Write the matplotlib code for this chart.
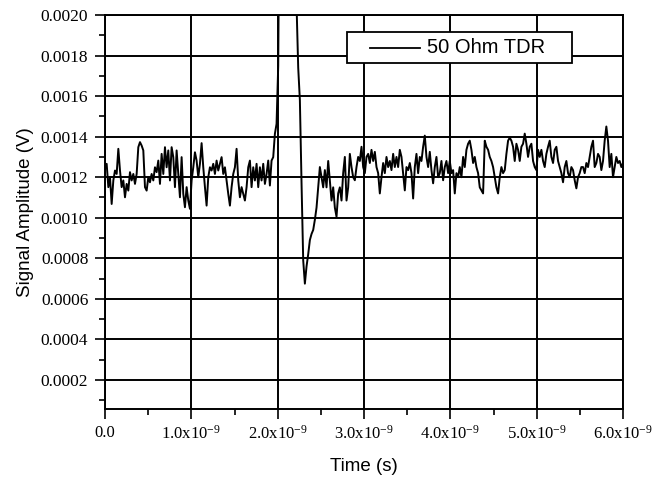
import numpy as np
import matplotlib
matplotlib.use("Agg")
import matplotlib.pyplot as plt
from matplotlib.ticker import FixedLocator, FuncFormatter
from matplotlib.patches import Rectangle
from matplotlib.lines import Line2D

# ---- data (amplitude in units of 1e-4 V), sampled every dt ----
dt_ns = 6.0 / 311

pre_pulse = [12.5, 12.66, 11.51, 12.0, 10.68, 11.84, 12.33, 12.16, 13.40, 12.33,
             11.51, 11.84, 11.01, 11.67, 11.34, 12.25, 11.84, 12.16, 11.67, 12.16,
             13.48, 13.73, 13.56, 13.32, 11.51, 11.34, 12.0, 11.75, 12.16, 11.84,
             12.49, 12.25, 12.82, 11.67, 13.15, 12.16, 13.48, 12.49, 13.32, 11.84,
             13.48, 12.99, 11.51, 13.32, 12.16, 11.01, 12.99, 11.18, 10.52, 11.51,
             10.85, 10.44, 11.84, 12.49, 13.23, 12.82, 12.0, 12.66, 13.68, 12.49,
             11.51, 10.6, 12.0, 12.49, 12.33, 12.66, 12.16, 12.82, 12.33, 12.66,
             12.99, 12.16, 12.49, 11.84, 11.18, 10.6, 11.51, 12.16, 12.49, 13.40,
             11.84, 11.01, 11.51, 11.18, 10.85, 11.51, 12.49, 12.82, 11.51, 12.49,
             11.84, 12.66, 11.51, 12.49, 11.84, 12.66, 11.67, 12.16, 12.82, 11.59,
             12.82, 12.99, 14.14, 14.63]

pulse = [17.5, 30, 45, 60, 70, 75, 75, 70, 60, 45, 30, 20.5,
         17.4, 15.8, 11.7, 7.9, 6.75, 7.6, 8.2, 8.9, 9.2, 9.4, 9.9, 10.5, 11.5]

post_pulse_a = [12.5, 12.0, 11.5, 12.35, 11.5, 12.8, 11.85, 10.85, 11.5, 10.5,
                10.05, 11.2, 11.5, 10.85, 12.2, 13.0, 10.85, 11.5, 13.15, 12.5,
                12.0, 11.85, 12.5, 13.0, 12.8, 13.5, 12.5, 12.2, 13.0, 13.15,
                12.7, 13.35, 12.8, 13.25, 12.5, 12.2, 11.2, 12.0, 12.7, 12.2,
                13.0, 12.5, 12.8, 12.35, 13.15, 12.5, 13.0, 12.5, 13.35, 13.0,
                12.2, 11.35, 12.5, 12.35, 12.7, 12.2, 10.95, 12.5, 13.15, 12.2,
                13.0, 12.8, 13.5, 14.05, 13.0, 12.5, 13.25, 12.35, 11.7, 12.5,
                13.0, 12.0, 12.2, 12.8, 11.85, 12.5, 12.8, 12.2, 12.8, 12.2,
                12.35, 11.2, 12.2, 12.0, 12.5, 12.0, 13.0, 12.5, 13.35, 13.65]

post_pulse_b = [13.8, 13.35, 12.7, 13.0, 12.5, 12.2, 11.5, 11.35, 11.2, 13.8,
                13.5, 13.35, 13.0, 12.8, 12.5, 12.0, 11.5, 11.2, 12.0, 12.5,
                12.2, 12.35, 13.15, 13.8, 13.95, 13.8, 13.5, 12.8, 13.65, 13.35,
                12.8, 13.5, 13.65, 14.15, 13.65, 13.0, 13.5, 13.65, 12.8, 12.5,
                12.35, 13.35, 13.0, 13.35, 12.8, 12.5, 13.15, 13.5, 13.8, 13.0,
                12.7, 13.35, 13.5, 12.8, 12.5, 12.2, 11.75, 12.5, 12.8, 12.2,
                12.0, 12.5, 12.35, 11.85, 11.45, 12.0, 12.2, 12.5, 12.5, 12.2,
                12.7, 12.5, 13.0, 13.5, 13.8, 12.5, 12.7, 13.15, 13.0, 12.35,
                12.8, 13.8, 14.5, 13.8, 12.5, 13.15, 12.0, 12.5, 13.0, 12.7,
                12.8, 12.5, 12.7]

x_ticks_ns = [0, 1, 2, 3, 4, 5, 6]
x_minor_ns = [0.5, 1.5, 2.5, 3.5, 4.5, 5.5]
y_ticks = [0.0002, 0.0004, 0.0006, 0.0008, 0.0010, 0.0012, 0.0014, 0.0016, 0.0018, 0.0020]
y_minor = [0.0001, 0.0003, 0.0005, 0.0007, 0.0009, 0.0011, 0.0013, 0.0015, 0.0017, 0.0019]

legend_label = "50 Ohm TDR"
x_label = "Time (s)"
y_label = "Signal Amplitude (V)"

amp = np.array(pre_pulse + pulse + post_pulse_a + post_pulse_b) * 1e-4
t = np.arange(len(amp)) * dt_ns * 1e-9

plt.rcParams["mathtext.fontset"] = "custom"
plt.rcParams["mathtext.rm"] = "Liberation Serif"

# ---- figure ----
W, H = 667, 479
L, R, T, B = 105.0, 623.0, 15.0, 409.3
fig = plt.figure(figsize=(W / 100, H / 100), dpi=100)
ax = fig.add_axes([L / W, 1 - B / H, (R - L) / W, (B - T) / H])

ax.plot(t, amp, color="black", lw=1.4, zorder=3)

ax.set_xlim(0, 6e-9)
ax.set_ylim(0.0000553, 0.0020)

ax.xaxis.set_major_locator(FixedLocator([v * 1e-9 for v in x_ticks_ns]))
ax.xaxis.set_minor_locator(FixedLocator([v * 1e-9 for v in x_minor_ns]))
ax.yaxis.set_major_locator(FixedLocator(y_ticks))
ax.yaxis.set_minor_locator(FixedLocator(y_minor))


def xfmt(v, pos):
    if abs(v) < 1e-15:
        return "0.0"
    return r"$\mathregular{%.1fx10^{-9}}$" % (v * 1e9)


ax.xaxis.set_major_formatter(FuncFormatter(xfmt))
ax.yaxis.set_major_formatter(FuncFormatter(lambda v, p: "%.4f" % v))

serif = "Liberation Serif"
for lab in ax.get_yticklabels():
    lab.set_fontfamily(serif)
    lab.set_fontsize(12.5)
for lab in ax.get_xticklabels():
    lab.set_fontfamily(serif)
    lab.set_fontsize(12)

ax.tick_params(which="major", direction="out", length=7, width=1.2, color="black")
ax.tick_params(which="minor", direction="out", length=4, width=1.2, color="black")
ax.tick_params(axis="x", which="major", pad=4)
ax.tick_params(axis="y", which="major", pad=5)

ax.grid(True, which="major", color="black", lw=1.4, zorder=1)
ax.set_axisbelow(True)
for s in ax.spines.values():
    s.set_linewidth(1.4)

sans = "Liberation Sans"
ax.set_xlabel(x_label, fontfamily=sans, fontsize=13.5, labelpad=11)
ax.set_ylabel(y_label, fontfamily=sans, fontsize=13.5, labelpad=5)


# ---- legend box drawn in axes fraction ----
def fx(px):
    return (px - L) / (R - L)


def fy(py):
    return (B - py) / (B - T)


ax.add_patch(Rectangle((fx(347), fy(63)), fx(572) - fx(347), fy(32) - fy(63),
                       transform=ax.transAxes, facecolor="white", edgecolor="black",
                       lw=1.3, zorder=5, clip_on=False))
ax.add_line(Line2D([fx(370), fx(420)], [fy(47.5), fy(47.5)], transform=ax.transAxes,
                   color="black", lw=1.3, zorder=6))
ax.text(fx(427), fy(47.5), legend_label, transform=ax.transAxes, ha="left", va="center",
        fontfamily=sans, fontsize=14.5, zorder=7)

fig.savefig("out.png", dpi=100)
